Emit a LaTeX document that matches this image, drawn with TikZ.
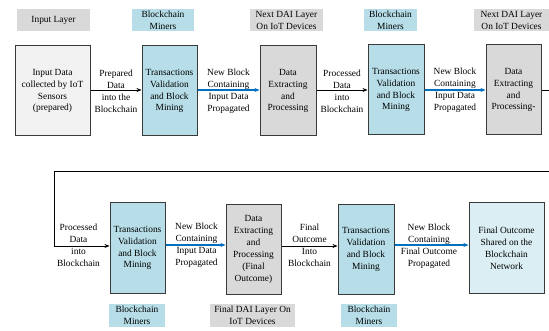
\documentclass[tikz,border=0pt]{standalone}
\usepackage{fontspec}
\setmainfont{Liberation Serif}
\usetikzlibrary{arrows.meta}
\definecolor{lblgray}{HTML}{D9D9D9}
\definecolor{lblblue}{HTML}{B7DEE8}
\definecolor{boxlight}{HTML}{F2F2F2}
\definecolor{boxfinal}{HTML}{DAEEF3}
\definecolor{arrowblue}{HTML}{0070C0}
\definecolor{edgegray}{HTML}{3A3A3A}
\tikzset{
  every node/.style={font=\fontsize{9.4}{11.9}\selectfont, align=center, inner sep=1pt},
  stagebox/.style={draw=edgegray, line width=1pt, minimum height=90pt, inner sep=1pt},
  graylabel/.style={fill=lblgray, minimum height=22pt, inner sep=0pt},
  bluelabel/.style={fill=lblblue, minimum height=22pt, inner sep=0pt},
  blackarrow/.style={draw=black, line width=0.8pt, -{Stealth[length=5pt,width=4pt]}},
  bluearrow/.style={draw=arrowblue, line width=1.1pt, -{Stealth[length=5pt,width=4pt]}},
  edgetext/.style={inner sep=0pt}
}
\begin{document}
\begin{tikzpicture}[x=1pt,y=-1pt]
\useasboundingbox (0,0) rectangle (549,331);
% top labels
\node[graylabel, minimum width=73pt] (l1) at (53.5,20) {Input Layer};
\node[bluelabel, minimum width=62pt] (l2) at (163,20) {Blockchain\\Miners};
\node[graylabel, minimum width=73pt] (l3) at (286.5,20) {Next DAI Layer\\On IoT Devices};
\node[bluelabel, minimum width=53pt] (l4) at (390.5,20) {Blockchain\\Miners};
\node[graylabel, minimum width=75pt] (l5) at (511.5,20) {Next DAI Layer\\On IoT Devices};
% top boxes
\node[stagebox, fill=boxlight, minimum width=75pt] (b1) at (52.5,91) {Input Data\\collected by IoT\\Sensors\\(prepared)};
\node[stagebox, fill=lblblue, minimum width=55pt] (b2) at (169.5,91) {Transactions\\Validation\\and Block\\Mining};
\node[stagebox, fill=lblgray, minimum width=56pt] (b3) at (288,91) {Data\\Extracting\\and\\Processing};
\node[stagebox, fill=lblblue, minimum width=56pt] (b4) at (396,90) {Transactions\\Validation\\and Block\\Mining};
\node[stagebox, fill=lblgray, minimum width=55pt] (b5) at (513.5,90) {Data\\Extracting\\and\\Processing-};
% bottom boxes
\node[stagebox, fill=lblblue, minimum width=55pt] (b6) at (137.5,248) {Transactions\\Validation\\and Block\\Mining};
\node[stagebox, fill=lblgray, minimum width=55pt, minimum height=89pt] (b7) at (253.5,249.5) {Data\\Extracting\\and\\Processing\\(Final\\Outcome)};
\node[stagebox, fill=lblblue, minimum width=56pt, minimum height=89pt] (b8) at (366,249.5) {Transactions\\Validation\\and Block\\Mining};
\node[stagebox, fill=boxfinal, minimum width=75pt] (b9) at (506.5,248) {Final Outcome\\Shared on the\\Blockchain\\Network};
% bottom labels
\node[bluelabel, minimum width=56pt, minimum height=23pt] (l6) at (137,315.5) {Blockchain\\Miners};
\node[graylabel, minimum width=85pt, minimum height=23pt] (l7) at (252.5,315.5) {Final DAI Layer On\\IoT Devices};
\node[bluelabel, minimum width=56pt, minimum height=23pt] (l8) at (369,315.5) {Blockchain\\Miners};
% edge texts
\node[edgetext] (t1) at (116,91) {Prepared\\Data\\into the\\Blockchain};
\node[edgetext] (t2) at (228.5,91) {New Block\\Containing\\Input Data\\Propagated};
\node[edgetext] (t3) at (342,91) {Processed\\Data\\into\\Blockchain};
\node[edgetext] (t4) at (455,90) {New Block\\Containing\\Input Data\\Propagated};
\node[edgetext] (t5) at (78.5,245) {Processed\\Data\\into\\Blockchain};
\node[edgetext] (t6) at (196.5,245) {New Block\\Containing\\Input Data\\Propagated};
\node[edgetext] (t7) at (309.5,245) {Final\\Outcome\\Into\\Blockchain};
\node[edgetext] (t8) at (429,246) {New Block\\Containing\\Final Outcome\\Propagated};
% connectors
\coordinate (w1) at (552,90);
\coordinate (w2) at (552,171);
\coordinate (w3) at (54,171);
\coordinate (w4) at (54,246);
\draw[blackarrow] (b1.east |- 0,90) -- (b2.west |- 0,90);
\draw[bluearrow] (b2.east |- 0,90) -- (b3.west |- 0,90);
\draw[blackarrow] (b3.east |- 0,90) -- (b4.west |- 0,90);
\draw[bluearrow] (b4.east |- 0,90) -- (b5.west |- 0,90);
\draw[blackarrow] (b5.east) -- (w1) -- (w2) -- (w3) -- (w4) -- (b6.west |- w4);
\draw[bluearrow] (b6.east |- 0,245) -- (b7.west |- 0,245);
\draw[blackarrow] (b7.east |- 0,246) -- (b8.west |- 0,246);
\draw[bluearrow] (b8.east |- 0,245) -- (b9.west |- 0,245);
\end{tikzpicture}
\end{document}
